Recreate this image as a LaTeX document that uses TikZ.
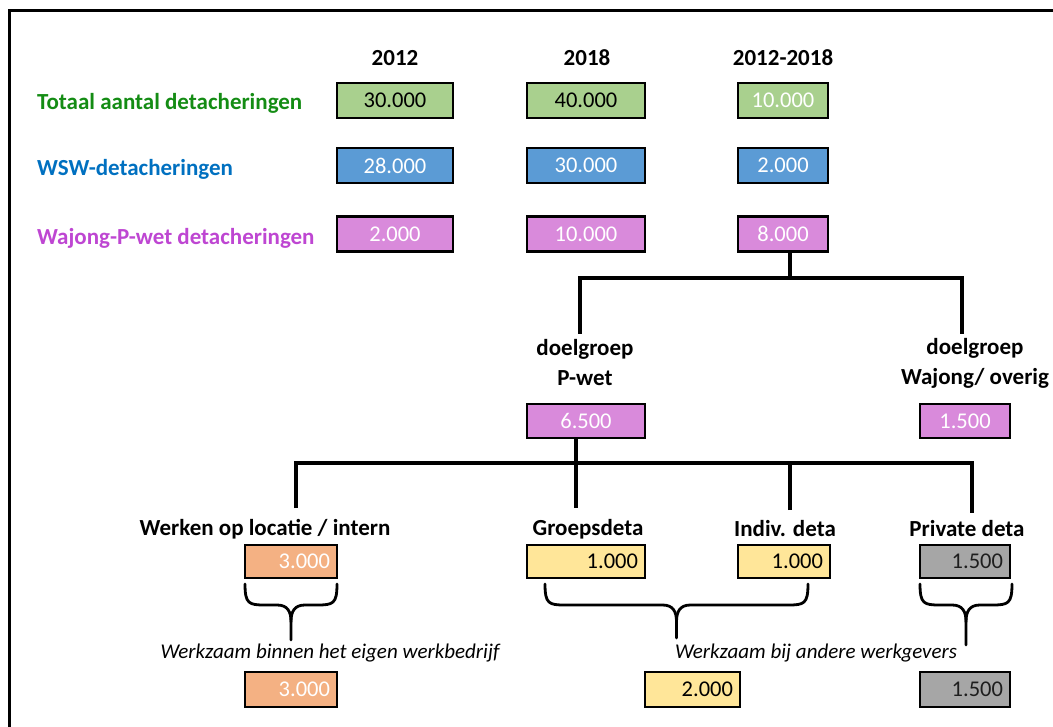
\documentclass[tikz,border=0pt]{standalone}
\usepackage{fontspec}
\setmainfont{Carlito}
\definecolor{lgreen}{HTML}{A9D08E}
\definecolor{lblue}{HTML}{5B9BD5}
\definecolor{lpurple}{HTML}{D98ADB}
\definecolor{lsalmon}{HTML}{F4B183}
\definecolor{lyellow}{HTML}{FFE699}
\definecolor{lgrey}{HTML}{A6A6A6}
\definecolor{tgreen}{RGB}{20,140,20}
\definecolor{tblue}{RGB}{0,112,192}
\definecolor{tpurple}{RGB}{190,70,210}
\definecolor{tdark}{RGB}{30,30,30}
\tikzset{
  conn/.style={line width=3.1pt},
  hdr/.style={font=\fontsize{23}{27}\selectfont\bfseries, inner sep=0pt},
  rowlab/.style={font=\fontsize{23}{27}\selectfont\bfseries, inner sep=0pt, anchor=west},
  grp/.style={font=\fontsize{23}{30}\selectfont\bfseries, inner sep=0pt, align=center},
  note/.style={font=\fontsize{21}{25}\selectfont\itshape, inner sep=0pt},
  valbox/.style={draw=black, line width=2.7pt, rectangle, inner sep=0pt,
    minimum height=35pt, font=\fontsize{22.5}{26}\selectfont},
  rbox/.style={valbox, inner xsep=7pt, align=right},
}
\begin{document}
\begin{tikzpicture}[x=1pt,y=-1pt]
\useasboundingbox (0,0) rectangle (1053,727);
% frame
\draw[line width=3pt] (9,727) -- (9,11) -- (1053,11);
% headers
\node[hdr] (h1) at (395,58) {2012};
\node[hdr] (h2) at (587,58) {2018};
\node[hdr] (h3) at (783,58) {2012-2018};
% row labels
\node[rowlab, text=tgreen] (l1) at (37,103) {Totaal aantal detacheringen};
\node[rowlab, text=tblue] (l2) at (37,169) {WSW-detacheringen};
\node[rowlab, text=tpurple] (l3) at (37,238) {Wajong-P-wet detacheringen};
% row 1
\node[valbox, fill=lgreen, minimum width=116pt] (b11) at (395,100.5) {30.000};
\node[valbox, fill=lgreen, minimum width=118pt] (b12) at (586,100.5) {40.000};
\node[valbox, fill=lgreen, minimum width=90pt, text=white] (b13) at (783,100.5) {10.000};
% row 2
\node[valbox, fill=lblue, minimum width=116pt, text=white] (b21) at (395,165.5) {28.000};
\node[valbox, fill=lblue, minimum width=118pt, text=white] (b22) at (586,165.5) {30.000};
\node[valbox, fill=lblue, minimum width=90pt, text=white] (b23) at (783,165.5) {2.000};
% row 3
\node[valbox, fill=lpurple, minimum width=116pt, text=white] (b31) at (395,234) {2.000};
\node[valbox, fill=lpurple, minimum width=118pt, text=white] (b32) at (586,234) {10.000};
\node[valbox, fill=lpurple, minimum width=90pt, text=white] (b33) at (783,234) {8.000};
% doelgroep
\node[grp] (dp) at (585,363) {doelgroep\\P-wet};
\node[grp] (dw) at (975,363) {doelgroep\\Wajong/ overig};
\node[valbox, fill=lpurple, minimum width=118pt, minimum height=34pt, text=white] (p1) at (586,421) {6.500};
\node[valbox, fill=lpurple, minimum width=90pt, minimum height=34pt, text=white] (p2) at (965,421) {1.500};
% first split
\coordinate (j1) at (790,278);
\coordinate (t1) at (580,334);
\coordinate (t2) at (962,334);
\draw[conn] (b33.south -| j1) -- (j1);
\draw[conn] (t1) |- (j1) -| (t2);
% second split
\coordinate (j2) at (576,463);
\coordinate (t3) at (576,508);
\coordinate (t4) at (296,508);
\coordinate (t5) at (790,510);
\coordinate (t6) at (972,513);
\draw[conn] (p1.south -| t3) -- (t3);
\draw[conn] (t4) -- (t4 |- j2) -- (j2 -| t6) -- (t6);
\draw[conn] (t5) -- (t5 |- j2);
% category labels
\node[hdr] (c1) at (265,529) {Werken op locatie / intern};
\node[hdr] (c2) at (588,529) {Groepsdeta};
\node[hdr] (c3) at (785,529) {Indiv. deta};
\node[hdr] (c4) at (967,529) {Private deta};
% category boxes
\node[rbox, fill=lsalmon, text width=78pt, minimum height=33pt, text=white] (v1) at (291,561.5) {3.000};
\node[rbox, fill=lyellow, text width=104pt, minimum height=33pt] (v2) at (586,561.5) {1.000};
\node[rbox, fill=lyellow, text width=78pt, minimum height=33pt] (v3) at (784,561.5) {1.000};
\node[rbox, fill=lgrey, text width=76pt, minimum height=33pt, text=tdark] (v4) at (965,561.5) {1.500};
% braces
\newcommand{\hbrace}[3]{% xl, xr, ytip
  \pgfmathsetmacro{\xc}{(#1+#2)/2}
  \draw[conn, line width=2.8pt, line cap=round]
    (#1,584) .. controls (#1,604) and (#1+4,605) .. (#1+20,605)
    -- (\xc-14,605) .. controls (\xc-3,605) and (\xc,612) .. (\xc,622) -- (\xc,#3);
  \draw[conn, line width=2.8pt, line cap=round]
    (#2,584) .. controls (#2,604) and (#2-4,605) .. (#2-20,605)
    -- (\xc+14,605) .. controls (\xc+3,605) and (\xc,612) .. (\xc,622);
}
\hbrace{245}{337}{640}
\hbrace{545}{808}{638}
\hbrace{920}{1012}{645}
% notes
\node[note] (n1) at (330,653) {Werkzaam binnen het eigen werkbedrijf};
\node[note] (n2) at (816,653) {Werkzaam bij andere werkgevers};
% bottom boxes
\node[rbox, fill=lsalmon, text width=78pt, text=white] (w1) at (291,689.5) {3.000};
\node[rbox, fill=lyellow, text width=81pt] (w2) at (692.5,689.5) {2.000};
\node[rbox, fill=lgrey, text width=76pt, text=tdark] (w3) at (965,689.5) {1.500};
\end{tikzpicture}
\end{document}
